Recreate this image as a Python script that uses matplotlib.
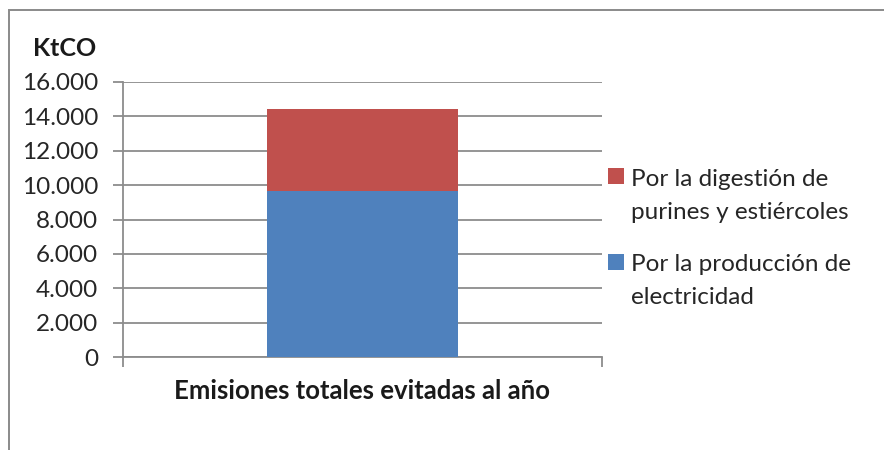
import matplotlib.pyplot as plt
from matplotlib.patches import Rectangle
from matplotlib.ticker import FuncFormatter

plt.rcParams['font.family'] = ['Lato', 'DejaVu Sans']

category = ['Emisiones totales evitadas al año']
electricidad = [9650]
purines = [4760]
series_labels = ['Por la producción de\nelectricidad',
                 'Por la digestión de\npurines y estiércoles']
y_ticks = [0, 2000, 4000, 6000, 8000, 10000, 12000, 14000, 16000]

BLUE = '#4f81bd'
RED = '#c0504d'
GRID = '#8c8c8c'
TEXT = '#262626'

W, H = 884, 450
fig = plt.figure(figsize=(W / 100, H / 100), dpi=100)

# outer chart frame (runs off the right and bottom edges)
fig.patches.append(Rectangle((9 / W, -0.1), 2.0, 1 - 10 / H + 0.1,
                             transform=fig.transFigure, fill=False,
                             edgecolor='#8a8a8a', lw=1.4))

ax = fig.add_axes([123 / W, 1 - 357 / H, (602 - 123) / W, (357 - 82) / H])

b1 = ax.bar(category, electricidad, width=0.4, color=BLUE, zorder=3)
b2 = ax.bar(category, purines, bottom=electricidad, width=0.4, color=RED, zorder=3)

ax.set_xlim(-0.5, 0.5)
ax.set_ylim(0, 16000)
ax.set_yticks(y_ticks)
ax.yaxis.set_major_formatter(FuncFormatter(lambda v, _: f'{int(v):,}'.replace(',', '.')))
ax.yaxis.grid(True, color=GRID, lw=1.3, zorder=0)
ax.set_axisbelow(True)

for side in ('top', 'right'):
    ax.spines[side].set_visible(False)
for side in ('left', 'bottom'):
    ax.spines[side].set_color(GRID)
    ax.spines[side].set_linewidth(1.3)

ax.tick_params(axis='y', length=7, width=1.3, color=GRID, labelsize=17.5,
               labelcolor=TEXT, pad=11)
ax.set_xticks([-0.5, 0.5])
ax.set_xticklabels(['', ''])
ax.tick_params(axis='x', length=7, width=1.3, color=GRID)

# category name under the axis
ax.text(0.5, -0.08, category[0], transform=ax.transAxes, fontsize=18.5,
        fontweight='bold', color='#1a1a1a', ha='center', va='top')

fig.text(33 / W, 1 - 49 / H, 'KtCO', fontsize=18, fontweight='bold',
         color='#1a1a1a', ha='left', va='center')

# legend: square aligned with the first line of each label
line_step = 35
legend_rows = [(b2, series_labels[1], 176.5), (b1, series_labels[0], 261.5)]
for bars, label, yc in legend_rows:
    sq = 16
    fig.patches.append(Rectangle((608 / W, 1 - (yc + sq / 2) / H), sq / W, sq / H,
                                 transform=fig.transFigure,
                                 facecolor=bars.patches[0].get_facecolor(),
                                 edgecolor='none'))
    n_extra = label.count('\n')
    fig.text(631 / W, 1 - (yc + 7.5 + n_extra * line_step) / H, label,
             fontsize=17.5, color=TEXT, ha='left', va='baseline',
             linespacing=1.72)

fig.savefig('out.png', dpi=100)
